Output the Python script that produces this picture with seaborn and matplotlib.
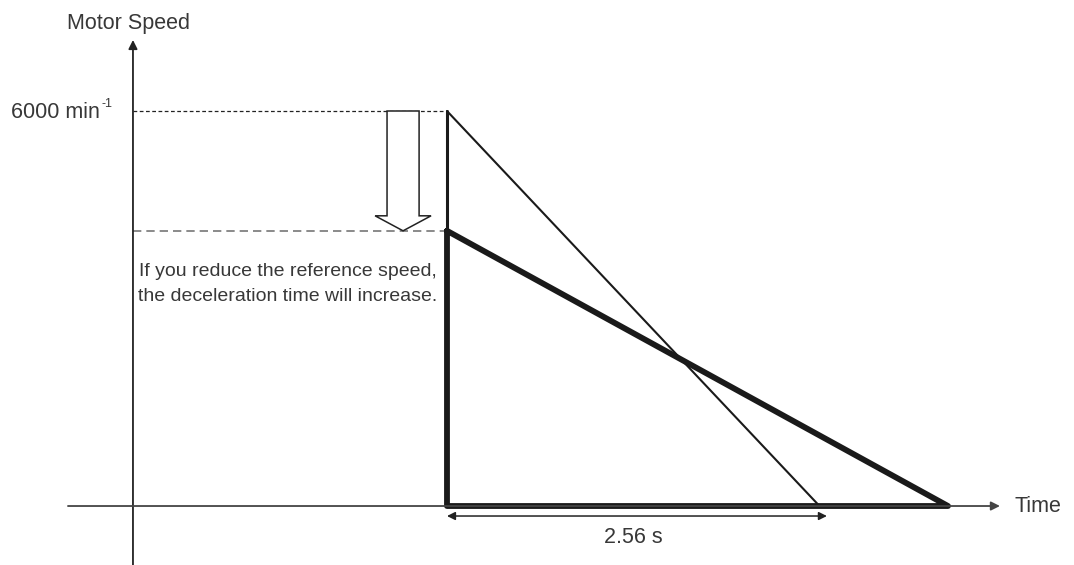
import matplotlib
matplotlib.use("Agg")
import matplotlib.pyplot as plt
import seaborn as sns
from matplotlib.patches import FancyArrow

# values
max_speed = 6000          # min^-1
reduced_speed = 4180      # min^-1 after reducing the reference
decel_time = 2.56         # s, labelled time at max speed
thin_end = 2.51           # s, where the thin ramp reaches zero
thick_end = 3.376         # s, where the reduced ramp reaches zero

thin_t = [0, 0, thin_end]
thin_v = [reduced_speed, max_speed, 0]
thick_t = [0, 0, thick_end, 0]
thick_v = [reduced_speed, 0, 0, reduced_speed]

sns.set_theme(style="white")
plt.rcParams["font.family"] = ["Liberation Sans", "DejaVu Sans"]

fig = plt.figure(figsize=(10.74, 5.65), dpi=100)
ax = fig.add_axes([0, 0, 1, 1])
ax.set_xlim(-3.012, 4.225)
ax.set_ylim(-896, 7686)
ax.axis("off")

# axes drawn as arrows
ax.annotate("", xy=(-2.116, 7079), xytext=(-2.116, -896),
            arrowprops=dict(arrowstyle="-|>", color="#222", lw=1.3,
                            mutation_scale=13, shrinkA=0, shrinkB=0))
ax.annotate("", xy=(3.726, 0), xytext=(-2.554, 0),
            arrowprops=dict(arrowstyle="-|>", color="#444", lw=1.3,
                            mutation_scale=13, shrinkA=0, shrinkB=0))

# guide lines
ax.plot([-2.116, 0], [max_speed, max_speed], color="#222", lw=0.9, ls=(0, (3, 2)))
ax.plot([-2.116, 0], [reduced_speed, reduced_speed], color="#777", lw=1.2, ls=(0, (5, 3)))

# speed ramps
sns.lineplot(x=thin_t[:2], y=thin_v[:2], sort=False, estimator=None,
             color="#1a1a1a", lw=2.2, ax=ax)
sns.lineplot(x=thin_t[1:], y=thin_v[1:], sort=False, estimator=None,
             color="#1a1a1a", lw=1.5, ax=ax)
sns.lineplot(x=thick_t, y=thick_v, sort=False, estimator=None,
             color="#1a1a1a", lw=4.2, ax=ax)

# hollow arrow showing the speed reduction
ax.add_patch(FancyArrow(-0.296, max_speed, 0, reduced_speed - max_speed,
                        width=0.216, head_width=0.377, head_length=228,
                        length_includes_head=True, facecolor="white",
                        edgecolor="#222", lw=1.1, zorder=3))

# dimension arrow for the deceleration time
ax.annotate("", xy=(decel_time, -152), xytext=(0, -152),
            arrowprops=dict(arrowstyle="<|-|>", color="#222", lw=1.1,
                            mutation_scale=12, shrinkA=0, shrinkB=0))

txt = dict(color="#383838", fontsize=15.5)
ax.text(-2.143, 7327, "Motor Speed", ha="center", va="center", **txt)
ax.text(-2.338, max_speed - 20, "6000 min", ha="right", va="center", **txt)
ax.text(-2.331, 6100, "-1", ha="left", va="center", color="#383838", fontsize=9)
ax.text(3.827, 0, "Time", ha="left", va="center", **txt)
ax.text(1.253, -471, f"{decel_time} s", ha="center", va="center", **txt)
ax.text(-0.067, 3370,
        "If you reduce the reference speed,\nthe deceleration time will increase.",
        ha="right", va="center", linespacing=1.65, color="#383838", fontsize=14)

fig.savefig("out.png", dpi=100)
